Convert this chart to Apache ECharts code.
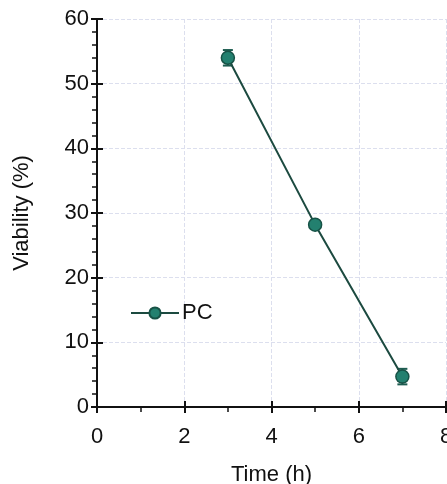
<!DOCTYPE html>
<html><head><meta charset="utf-8">
<script src="https://cdn.jsdelivr.net/npm/echarts@6/dist/echarts.min.js"></script>
<style>html,body{margin:0;padding:0;background:#fff}#c{width:447px;height:484px}</style>
</head><body><div id="c"></div>
<script>
var timeH = [3, 5, 7];
var viability = [54.0, 28.2, 4.7];
var errorSD = [1.2, 0.5, 1.2];
var xTicks = [0, 2, 4, 6, 8];
var yTicks = [0, 10, 20, 30, 40, 50, 60];
var seriesName = 'PC';

var chart = echarts.init(document.getElementById('c'));
var font = 'Liberation Sans, Arial, sans-serif';
var axisCol = '#111';
var gridCol = '#dcdfee';
var pts = timeH.map(function(t, i){ return [t, viability[i]]; });
var errData = timeH.map(function(t, i){ return [t, viability[i] - errorSD[i], viability[i] + errorSD[i]]; });

function baseX(show){
  return {type:'value', min:xTicks[0], max:xTicks[xTicks.length-1], interval:2,
    axisLine:{show:true, onZero:false, lineStyle:{color:axisCol, width:2}},
    axisTick:{show:true, inside:!show, length:6, lineStyle:{color:axisCol, width:2}},
    minorTick:{show:show, splitNumber:2, length:5, lineStyle:{color:axisCol, width:1.5}},
    axisLabel:{show:show, color:'#111', fontSize:22, fontFamily:font, margin:19},
    splitLine:{show:show, lineStyle:{color:gridCol, type:'dashed', width:1}},
    name: show ? 'Time (h)' : '', nameLocation:'middle', nameGap:57,
    nameTextStyle:{color:'#111', fontSize:22, fontFamily:font}};
}
function baseY(show){
  return {type:'value', min:yTicks[0], max:yTicks[yTicks.length-1], interval:10,
    axisLine:{show:true, onZero:false, lineStyle:{color:axisCol, width:2}},
    axisTick:{show:true, inside:!show, length:6, lineStyle:{color:axisCol, width:2}},
    minorTick:{show:show, splitNumber:5, length:5, lineStyle:{color:axisCol, width:1.5}},
    axisLabel:{show:show, color:'#111', fontSize:22, fontFamily:font, margin:8},
    splitLine:{show:show, lineStyle:{color:gridCol, type:'dashed', width:1}},
    name: show ? 'Viability (%)' : '', nameLocation:'middle', nameGap:64,
    nameTextStyle:{color:'#111', fontSize:22, fontFamily:font}};
}
var x2 = baseX(false); x2.position = 'bottom';
var y2 = baseY(false); y2.position = 'left';

chart.setOption({
  animation:false,
  backgroundColor:'#fff',
  grid:{left:97, top:19, right:1, bottom:77, containLabel:false, outerBoundsMode:'none'},
  xAxis:[baseX(true), x2],
  yAxis:[baseY(true), y2],
  legend:{show:true, left:125, top:297, orient:'vertical', itemWidth:48, itemHeight:14, itemGap:4,
    textStyle:{color:'#111', fontSize:22, fontFamily:font, padding:[0,0,0,-2]},
    data:[{name:seriesName}]},
  series:[
    {type:'custom', name:'err', xAxisIndex:0, yAxisIndex:0, z:3, silent:true,
      renderItem:function(params, api){
        var x = api.value(0);
        var lo = api.coord([x, api.value(1)]);
        var hi = api.coord([x, api.value(2)]);
        var w = 5;
        var st = {stroke:'#1d5c50', lineWidth:2};
        return {type:'group', children:[
          {type:'line', shape:{x1:lo[0], y1:lo[1], x2:hi[0], y2:hi[1]}, style:st},
          {type:'line', shape:{x1:lo[0]-w, y1:lo[1], x2:lo[0]+w, y2:lo[1]}, style:st},
          {type:'line', shape:{x1:hi[0]-w, y1:hi[1], x2:hi[0]+w, y2:hi[1]}, style:st}
        ]};
      },
      encode:{x:0, y:[1,2]},
      data:errData},
    {type:'line', name:seriesName, xAxisIndex:0, yAxisIndex:0, z:4, data:pts,
      symbol:'circle', symbolSize:13,
      lineStyle:{color:'#1c4a40', width:2},
      itemStyle:{color:'#23806f', borderColor:'#175246', borderWidth:1.5}}
  ]
});
</script></body></html>
